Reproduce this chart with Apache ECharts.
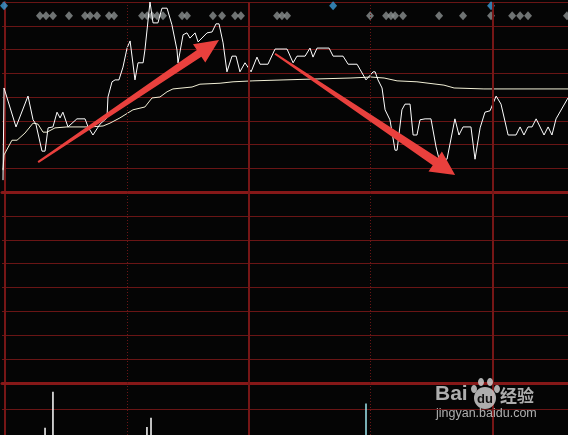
<!DOCTYPE html>
<html><head><meta charset="utf-8">
<script src="https://cdn.jsdelivr.net/npm/echarts/dist/echarts.min.js"></script>
<style>html,body{margin:0;padding:0;background:#050505;overflow:hidden}#c{width:568px;height:435px}</style>
</head><body><div id="c"></div>
<script>
// ---- data (minutes from open, % change) ----
const priceMinutes = [-1.0,-0.5,5.4,11.3,13.8,15.2,18.2,19.7,21.2,23.6,25.6,27.1,28.5,31.0,35.4,39.4,40.9,43.3,46.8,50.2,50.7,52.7,54.2,56.1,58.1,60.1,61.6,64.0,65.5,68.0,68.9,71.4,72.9,75.3,77.3,79.8,82.2,84.7,85.2,87.7,89.6,91.1,93.6,95.1,99.5,102.0,103.9,105.4,107.4,109.3,111.8,113.8,115.7,118.2,121.2,122.1,124.1,125.6,129.5,133.0,138.9,141.9,143.8,147.8,150.2,151.7,153.7,159.6,161.6,166.5,169.0,173.4,177.8,181.3,182.3,183.7,185.7,187.2,189.6,192.1,193.1,195.5,197.0,199.5,201.0,202.9,204.4,206.9,209.8,212.3,213.8,217.7,221.6,223.6,225.6,229.5,231.5,234.0,236.4,238.9,241.9,244.3,247.8,251.7,253.7,255.6,257.6,259.6,261.6,265.5,267.5,269.4,271.4,277.3];
const priceValues = [-1.75,0.19,-0.63,0.02,-0.48,-0.57,-1.14,-1.14,-0.65,-0.63,-0.32,-0.44,-0.32,-0.63,-0.46,-0.46,-0.63,-0.80,-0.57,-0.44,0.00,0.32,0.36,0.36,0.63,1.03,1.18,0.36,0.72,0.72,0.99,2.00,1.56,1.56,1.87,1.87,1.52,0.99,0.72,1.31,1.35,1.24,1.35,1.16,1.35,1.37,1.54,1.54,1.14,0.53,0.86,0.86,0.53,0.72,0.53,0.53,0.84,0.69,0.69,1.01,1.01,0.72,0.86,0.86,1.03,0.84,1.03,1.03,0.86,0.86,0.69,0.69,0.36,0.53,0.53,0.36,0.19,-0.27,-0.48,-1.12,-1.12,-0.27,-0.15,-0.15,-0.80,-0.80,-0.48,-0.46,-0.46,-1.05,-1.31,-1.31,-0.46,-0.80,-0.63,-0.63,-1.31,-0.65,-0.32,-0.29,0.02,-0.15,-0.80,-0.80,-0.63,-0.80,-0.63,-0.63,-0.46,-0.80,-0.63,-0.80,-0.46,-0.02];
const avgMinutes = [-1.0,-0.5,3.4,5.9,9.8,13.8,16.2,18.7,20.7,24.6,30.5,41.9,48.3,51.7,56.6,63.0,68.9,72.4,76.3,79.8,82.7,92.1,96.0,105.9,112.3,122.1,137.4,153.7,170.4,180.3,186.7,193.1,202.9,216.2,221.2,235.9,277.3];
const avgValues = [-1.54,-1.22,-0.91,-0.91,-0.76,-0.55,-0.57,-0.74,-0.74,-0.65,-0.63,-0.63,-0.61,-0.55,-0.44,-0.27,-0.21,-0.02,0.00,0.11,0.17,0.21,0.27,0.29,0.32,0.34,0.36,0.38,0.40,0.42,0.40,0.34,0.32,0.25,0.19,0.17,0.17];
const grayMarkMinutes = [17.2,20.2,23.6,31.5,39.4,41.9,45.3,51.2,53.7,67.5,70.0,72.4,74.9,77.8,87.2,89.6,102.4,106.9,113.3,116.2,134.0,136.4,138.9,179.8,187.7,190.1,192.1,196.0,213.8,225.6,239.4,249.8,253.7,257.6,276.8];
const grayMarkLevel = 1.71;
const blueMarkMinutes = [-0.5,161.6,239.4];
const blueMarkLevel = 1.92;
const volUpMinutes = [19.7,23.6,69.9,71.9];
const volUpValues = [0.28,1.66,0.31,0.66];
const volDownMinutes = [177.8];
const volDownValues = [1.21];
const hourLines = [60,120,180,240];
// arrows: [tailMinute, tailValue, tipMinute, tipValue]
const arrowUp = [16.3,-1.37,105.4,1.20];
const arrowDown = [133.0,0.91,221.7,-1.64];

const thin = '#691515', thick = '#861818', vline = '#761616';
const xMin = -1.5, xMax = 277.3;
const zip = (a,b) => a.map((v,i)=>[v,b[i]]);

function xAxisFor(i, showLine){
  return {type:'value', gridIndex:i, min:xMin, max:xMax, axisLabel:{show:false}, axisTick:{show:false}, splitLine:{show:false},
    axisLine:{show:showLine, onZero:false, lineStyle:{color:thick, width:3}}};
}
function yAxisFor(i, min, max, interval){
  return {type:'value', gridIndex:i, min, max, interval, axisLabel:{show:false}, axisTick:{show:false},
    axisLine:{show:true, lineStyle:{color:vline, width:2}}, splitLine:{show:true, lineStyle:{color:thin, width:1}}};
}
const vMarks = {symbol:'none', silent:true, label:{show:false}, animation:false,
  data: hourLines.map(m => ({xAxis:m, lineStyle:{color: (m%120===0)?vline:'#6a1616', width:(m%120===0)?2:1, type:(m%120===0)?'solid':[1,2]}}))};

const chart = echarts.init(document.getElementById('c'), null, {renderer:'canvas'});
chart.setOption({
  backgroundColor:'#050505',
  animation:false,
  grid:[
    {left:2, right:0, top:2, height:190},
    {left:2, right:0, top:192, height:191},
    {left:2, right:0, top:383, height:58}
  ],
  xAxis:[xAxisFor(0,true), xAxisFor(1,true), xAxisFor(2,false)],
  yAxis:[yAxisFor(0,-2,2,0.5), yAxisFor(1,0,8,1), yAxisFor(2,0,2,1)],
  series:[
    {type:'scatter', xAxisIndex:0, yAxisIndex:0, symbol:'diamond', symbolSize:[8,9], z:1,
      itemStyle:{color:'#8a8f8f'}, data: grayMarkMinutes.map(m=>[m,grayMarkLevel])},
    {type:'scatter', xAxisIndex:0, yAxisIndex:0, symbol:'diamond', symbolSize:[8,9], z:1,
      itemStyle:{color:'#3b9bd6'}, data: blueMarkMinutes.map(m=>[m,blueMarkLevel])},
    {type:'line', xAxisIndex:0, yAxisIndex:0, showSymbol:false, z:3, lineStyle:{color:'#f2f0d6', width:1},
      data: zip(avgMinutes, avgValues)},
    {type:'line', xAxisIndex:0, yAxisIndex:0, showSymbol:false, z:4, lineStyle:{color:'#ffffff', width:1},
      data: zip(priceMinutes, priceValues), markLine: vMarks},
    {type:'line', xAxisIndex:1, yAxisIndex:1, data:[], markLine: vMarks},
    {type:'bar', xAxisIndex:2, yAxisIndex:2, barWidth:1.5, barGap:'-100%', itemStyle:{color:'#ffffff'},
      data: zip(volUpMinutes, volUpValues), markLine: vMarks},
    {type:'bar', xAxisIndex:2, yAxisIndex:2, barWidth:1.5, barGap:'-100%', itemStyle:{color:'#9ee8f0'},
      data: zip(volDownMinutes, volDownValues)}
  ]
});

function arrowPoly(a, L, H, w0, w1){
  const T = chart.convertToPixel({gridIndex:0}, [a[0],a[1]]);
  const P = chart.convertToPixel({gridIndex:0}, [a[2],a[3]]);
  const dx = P[0]-T[0], dy = P[1]-T[1], len = Math.hypot(dx,dy);
  const ux = dx/len, uy = dy/len, nx = -uy, ny = ux;
  const B = [P[0]-ux*L, P[1]-uy*L];
  return [[T[0]+nx*w0, T[1]+ny*w0],[B[0]+nx*w1, B[1]+ny*w1],[B[0]+nx*H, B[1]+ny*H],P,
          [B[0]-nx*H, B[1]-ny*H],[B[0]-nx*w1, B[1]-ny*w1],[T[0]-nx*w0, T[1]-ny*w0]];
}
const wm = 'rgba(205,205,205,0.85)';
chart.setOption({graphic:[
  {type:'polygon', z:100, shape:{points:arrowPoly(arrowUp,24,11,1,4)}, style:{fill:'#e9403d'}},
  {type:'polygon', z:100, shape:{points:arrowPoly(arrowDown,24,12,1,4.5)}, style:{fill:'#e9403d'}},
  {type:'text', z:100, x:435, y:384, style:{text:'Bai', fill:wm, font:'bold 21px "Liberation Sans", Arial, sans-serif'}},
  {type:'circle', z:100, shape:{cx:485, cy:398, r:11}, style:{fill:wm}},
  {type:'ellipse', z:100, shape:{cx:474, cy:389, rx:3, ry:4}, style:{fill:wm}},
  {type:'ellipse', z:100, shape:{cx:481, cy:382, rx:3, ry:4}, style:{fill:wm}},
  {type:'ellipse', z:100, shape:{cx:490, cy:382, rx:3, ry:4}, style:{fill:wm}},
  {type:'ellipse', z:100, shape:{cx:497, cy:389, rx:3, ry:4}, style:{fill:wm}},
  {type:'text', z:101, x:485, y:399, style:{text:'du', fill:'#101010', font:'bold 13px "Liberation Sans", Arial, sans-serif', align:'center', verticalAlign:'middle'}},
  {type:'text', z:100, x:500, y:387, style:{text:'经验', fill:wm, font:'bold 17px "Noto Sans CJK SC", sans-serif'}},
  {type:'text', z:100, x:436, y:407, style:{text:'jingyan.baidu.com', fill:wm, font:'12.5px "Liberation Sans", Arial, sans-serif'}}
]});
</script>
</body></html>
